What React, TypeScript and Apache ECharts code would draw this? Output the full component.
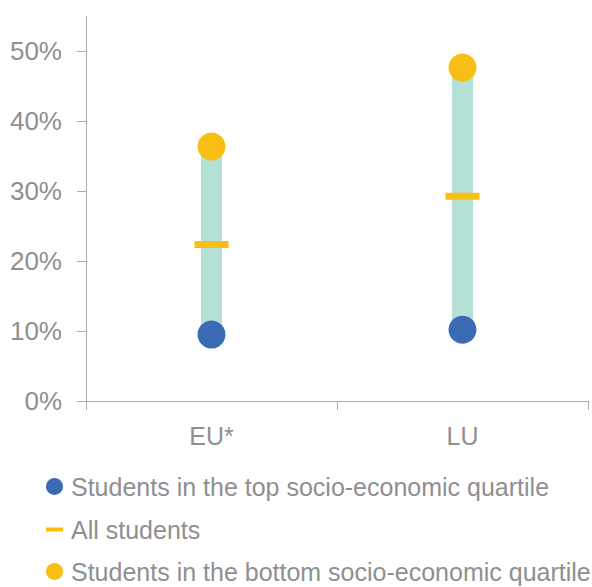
import React, { useEffect, useRef } from "react";
import * as echarts from "echarts";

const categories = ["EU*", "LU"];
const topQuartile = [0.095, 0.102];
const allStudents = [0.224, 0.293];
const bottomQuartile = [0.364, 0.477];
const yTicks = [0, 0.1, 0.2, 0.3, 0.4, 0.5];

const NAME_TOP = "Students in the top socio-economic quartile";
const NAME_ALL = "All students";
const NAME_BOTTOM = "Students in the bottom socio-economic quartile";

const BLUE = "#3c6bb5";
const YELLOW = "#f9be14";
const TEAL = "#b5e0d6";
const GREY_TEXT = "#8f8f8f";
const GREY_AXIS = "#adadad";
const FONT = "'Liberation Sans', Arial, sans-serif";

const legendRow = (name: string, icon: string, centerY: number) => ({
  orient: "horizontal",
  left: 46,
  top: centerY - 12,
  padding: 0,
  itemWidth: 17,
  itemHeight: 17,
  selectedMode: false,
  textStyle: { color: GREY_TEXT, fontSize: 25, fontFamily: FONT, lineHeight: 24, padding: [0, 0, 0, 3] },
  data: [{ name, icon }],
});

export default function App() {
  const ref = useRef<HTMLDivElement>(null);
  useEffect(() => {
    document.body.style.margin = "0";
    if (!ref.current) return;
    const chart = echarts.init(ref.current, null, { renderer: "svg" });
    const rangeLen = bottomQuartile.map((b, i) => b - topQuartile[i]);
    chart.setOption({
      animation: false,
      textStyle: { fontFamily: FONT },
      grid: { left: 86, right: 4, top: 16.5, bottom: 186, outerBoundsMode: "none" },
      xAxis: {
        type: "category",
        data: categories,
        boundaryGap: true,
        axisLine: { show: true, lineStyle: { color: GREY_AXIS, width: 1 } },
        axisTick: { show: true, length: 9, lineStyle: { color: GREY_AXIS } },
        axisLabel: { color: GREY_TEXT, fontSize: 25, fontFamily: FONT, margin: 22 },
        splitLine: { show: false },
      },
      yAxis: {
        type: "value",
        min: 0,
        max: 0.55,
        splitLine: { show: false },
        axisLine: { show: true, lineStyle: { color: GREY_AXIS, width: 1 } },
        axisTick: { show: true, length: 9, lineStyle: { color: GREY_AXIS }, customValues: yTicks },
        axisLabel: {
          color: GREY_TEXT,
          fontSize: 26,
          fontFamily: FONT,
          margin: 24,
          customValues: yTicks,
          formatter: (v: number) => Math.round(v * 100) + "%",
        },
      },
      legend: [
        legendRow(NAME_TOP, "circle", 486),
        legendRow(NAME_ALL, "path://M0,0H17V4H0Z", 529),
        legendRow(NAME_BOTTOM, "circle", 571),
      ],
      series: [
        {
          name: "base",
          type: "bar",
          stack: "range",
          data: topQuartile,
          barWidth: 21,
          itemStyle: { color: "transparent" },
          silent: true,
          z: 1,
        },
        {
          name: "range",
          type: "bar",
          stack: "range",
          data: rangeLen,
          barWidth: 21,
          itemStyle: { color: TEAL },
          silent: true,
          z: 1,
        },
        {
          name: NAME_ALL,
          type: "scatter",
          data: allStudents,
          symbol: "rect",
          symbolSize: [34, 7],
          itemStyle: { color: YELLOW, opacity: 1 },
          z: 3,
        },
        {
          name: NAME_TOP,
          type: "scatter",
          data: topQuartile,
          symbol: "circle",
          symbolSize: 28,
          itemStyle: { color: BLUE, opacity: 1 },
          z: 4,
        },
        {
          name: NAME_BOTTOM,
          type: "scatter",
          data: bottomQuartile,
          symbol: "circle",
          symbolSize: 28,
          itemStyle: { color: YELLOW, opacity: 1 },
          z: 4,
        },
      ],
    });
    return () => chart.dispose();
  }, []);
  return <div ref={ref} style={{ width: 592, height: 587 }} />;
}
